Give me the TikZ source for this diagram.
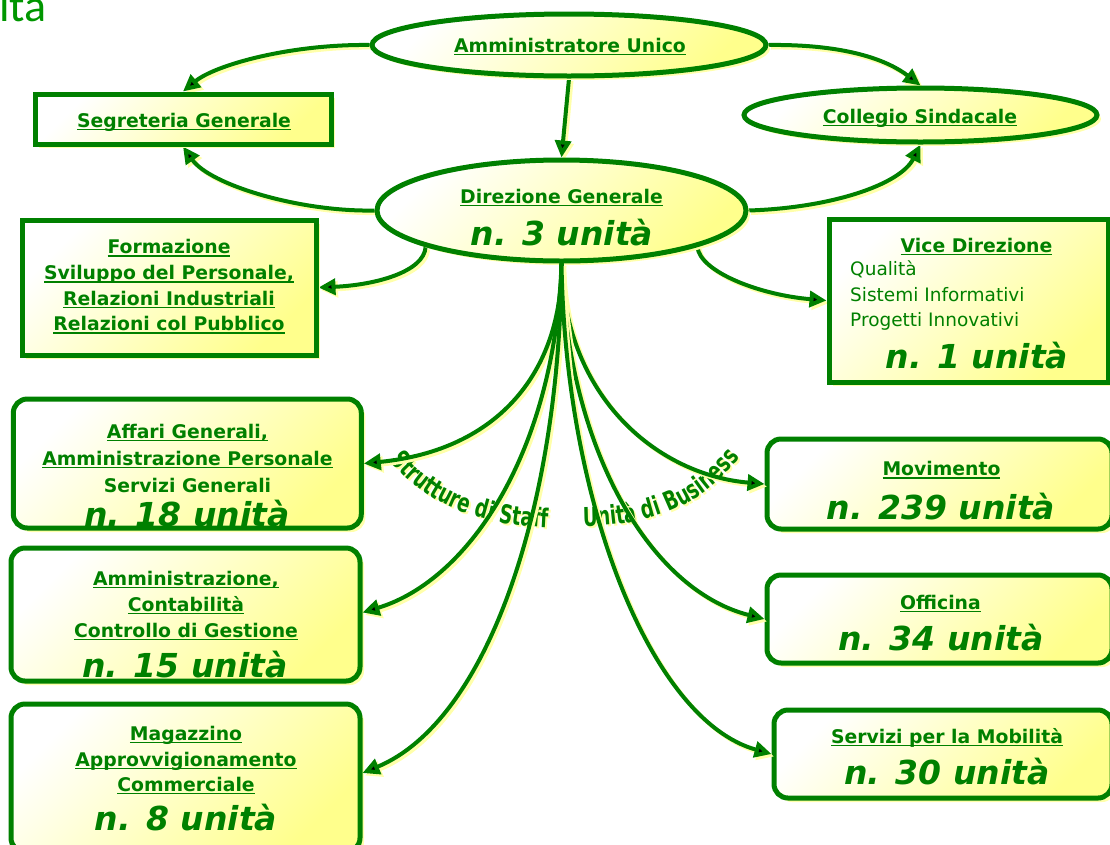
\documentclass[tikz,border=0pt]{standalone}
\usepackage{fontspec}
\setmainfont{DejaVu Sans}
\newfontfamily\titlefont{Carlito}
\newfontfamily\condfont[FakeStretch=0.7]{DejaVu Sans}
\usetikzlibrary{arrows.meta,shapes.geometric,shadows,decorations.text,backgrounds}
\definecolor{G}{RGB}{0,128,0}
\definecolor{TG}{RGB}{0,150,0}
\definecolor{SH}{RGB}{255,255,170}
\definecolor{FY}{RGB}{255,255,140}
\newcommand\ulx[1]{\setbox0\hbox{#1}\rlap{\raisebox{-3.4pt}{\rule{\wd0}{1.9pt}}}\box0}
\tikzset{
  box/.style={draw=G, line width=5pt, top color=white, bottom color=FY, shading angle=45,
    general shadow={shadow xshift=4pt, shadow yshift=-4pt, fill=SH}, inner sep=0pt},
  rbox/.style={box, rounded corners=14pt},
  ell/.style={box, ellipse},
  lbl/.style={text=G, font=\fontsize{18.8}{22}\selectfont\bfseries, inner sep=0pt, anchor=base},
  num/.style={text=G, font=\fontsize{33}{36}\selectfont\bfseries\itshape, inner sep=0pt, anchor=base},
  lst/.style={text=G, font=\fontsize{18.5}{22}\selectfont, inner sep=0pt, anchor=base west},
  conn/.style={draw=G, line width=4pt, -{Triangle[length=17pt,width=16pt]},
    preaction={draw=SH, line width=4pt, transform canvas={shift={(2.5pt,-2.5pt)}}}},
  curvtxt/.style={decorate, decoration={text along path, text color=#1, text align=center}},
}
\begin{document}
\begin{tikzpicture}[x=1pt, y=-1pt]
\useasboundingbox (0,0) rectangle (1110,844);
\clip (0,0) rectangle (1110,844);

% title fragment
\node[anchor=base west, inner sep=0pt, text=TG, font=\titlefont\fontsize{46}{46}\selectfont] (title) at (-1,21) {ita};

% shapes
\node[ell, minimum width=394pt, minimum height=62pt] (amm) at (569,45) {};
\node[box, minimum width=296pt, minimum height=50pt] (seg) at (183,119) {};
\node[ell, minimum width=353pt, minimum height=54pt] (col) at (920.5,115) {};
\node[ell, minimum width=369pt, minimum height=101pt] (dir) at (561.5,210.5) {};
\node[box, minimum width=294pt, minimum height=135pt] (form) at (169,287.5) {};
\node[box, minimum width=279pt, minimum height=163pt] (vice) at (968.5,300.5) {};
\node[rbox, minimum width=348pt, minimum height=129pt] (aff) at (187.3,463.5) {};
\node[rbox, minimum width=349pt, minimum height=133pt] (ammc) at (185.5,614.5) {};
\node[rbox, minimum width=349pt, minimum height=148pt] (mag) at (185.5,778) {};
\node[rbox, minimum width=345pt, minimum height=90pt] (mov) at (939.5,484) {};
\node[rbox, minimum width=345pt, minimum height=88pt] (off) at (939.5,619) {};
\node[rbox, minimum width=338pt, minimum height=88pt] (serv) at (943,754) {};

% texts
\node[lbl] (amm-t) at (570,52) {\ulx{Amministratore Unico}};
\node[lbl] (seg-t) at (184,127) {\ulx{Segreteria Generale}};
\node[lbl] (col-t) at (920,123) {\ulx{Collegio Sindacale}};
\node[lbl] (dir-t) at (561.5,203) {\ulx{Direzione Generale}};
\node[num] (dir-n) at (562,245) {n. 3 unità};

\node[lbl] (vice-t) at (976.5,252) {\ulx{Vice Direzione}};
\node[lst] (vice-a) at (850,275) {Qualità};
\node[lst] (vice-b) at (850,301.7) {Sistemi Informativi};
\node[lst] (vice-c) at (850,326.7) {Progetti Innovativi};
\node[num] (vice-n) at (977,368) {n. 1 unità};

\node[lbl] (form-a) at (169,253.3) {\ulx{Formazione}};
\node[lbl] (form-b) at (169,279.3) {\ulx{Sviluppo del Personale,}};
\node[lbl] (form-c) at (169,305) {\ulx{Relazioni Industriali}};
\node[lbl] (form-d) at (169,330.5) {\ulx{Relazioni col Pubblico}};

\node[lbl] (aff-a) at (187.5,438) {\ulx{Affari Generali,}};
\node[lbl] (aff-b) at (187.5,465) {\ulx{Amministrazione Personale}};
\node[lbl] (aff-c) at (187.5,492) {Servizi Generali};
\node[num] (aff-n) at (187,526) {n. 18 unità};

\node[lbl] (ammc-a) at (186,585) {\ulx{Amministrazione,}};
\node[lbl] (ammc-b) at (186,611) {\ulx{Contabilità}};
\node[lbl] (ammc-c) at (186,637) {\ulx{Controllo di Gestione}};
\node[num] (ammc-n) at (185,677) {n. 15 unità};

\node[lbl] (mag-a) at (186,740) {\ulx{Magazzino}};
\node[lbl] (mag-b) at (186,766) {\ulx{Approvvigionamento}};
\node[lbl] (mag-c) at (186,791) {\ulx{Commerciale}};
\node[num] (mag-n) at (186,830) {n. 8 unità};

\node[lbl] (mov-t) at (941.5,475.5) {\ulx{Movimento}};
\node[num] (mov-n) at (941,519) {n. 239 unità};
\node[lbl] (off-t) at (940.5,609) {\ulx{Officina}};
\node[num] (off-n) at (941,650) {n. 34 unità};
\node[lbl] (serv-t) at (947,743) {\ulx{Servizi per la Mobilità}};
\node[num] (serv-n) at (947,784) {n. 30 unità};

% curved labels
\begin{scope}[shift={(2,2)}]
\path[curvtxt=SH, decoration={text={|\condfont\fontsize{26}{26}\selectfont\bfseries|Strutture di Staff}}]
  (384,452) .. controls (418,503) and (480,527) .. (558,528);
\path[curvtxt=SH, decoration={text={|\condfont\fontsize{26}{26}\selectfont\bfseries|Unità di Business}}]
  (574,526) .. controls (650,528) and (708,505) .. (745,450);
\end{scope}
\path[curvtxt=G, decoration={text={|\condfont\fontsize{26}{26}\selectfont\bfseries|Strutture di Staff}}]
  (384,452) .. controls (418,503) and (480,527) .. (558,528);
\path[curvtxt=G, decoration={text={|\condfont\fontsize{26}{26}\selectfont\bfseries|Unità di Business}}]
  (574,526) .. controls (650,528) and (708,505) .. (745,450);

% connectors
\begin{scope}[on background layer]
\draw[conn] (amm.west) .. controls (290,44) and (215,65) .. (seg.north);
\draw[conn] (amm.east) .. controls (850,44) and (890,62) .. (col.north);
\draw[conn] (amm.south) -- (dir.north);
\draw[conn] (dir.west) .. controls (300,212) and (210,185) .. (seg.south);
\draw[conn] (dir.east) .. controls (830,208) and (900,185) .. (col.south);
\draw[conn] (dir.195) .. controls (424,272) and (375,285) .. (form.east);
\draw[conn] (dir.-15) .. controls (700,272) and (760,295) .. (vice.west);
\end{scope}
\draw[conn] (dir.south) .. controls (562,370) and (500,450) .. (aff.east);
\draw[conn] (dir.south) .. controls (555,450) and (470,580) .. ([yshift=2pt]ammc.east);
\draw[conn] (dir.south) .. controls (560,500) and (490,720) .. ([yshift=5pt]mag.east);
\draw[conn] (dir.south) .. controls (565,400) and (660,475) .. (mov.west);
\draw[conn] (dir.south) .. controls (568,450) and (650,590) .. (off.west);
\draw[conn] (dir.south) .. controls (565,500) and (650,720) .. (serv.west);
\end{tikzpicture}
\end{document}
